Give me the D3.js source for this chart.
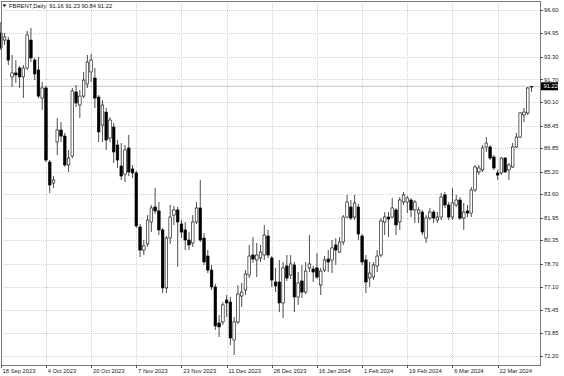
<!DOCTYPE html>
<html><head><meta charset="utf-8">
<script src="https://cdn.jsdelivr.net/npm/d3@7"></script>
<style>
html,body{margin:0;padding:0;background:#fff;}
svg{display:block;font-family:"Liberation Sans",Arial,sans-serif;}
</style></head>
<body><svg id="c" width="564" height="376"></svg>
<script>
const symbol = "FBRENT,Daily";
const lastOHLC = [91.16, 91.23, 90.84, 91.22];
const dateLabels = ["18 Sep 2023","4 Oct 2023","20 Oct 2023","7 Nov 2023","23 Nov 2023","11 Dec 2023","28 Dec 2023","16 Jan 2024","1 Feb 2024","19 Feb 2024","6 Mar 2024","22 Mar 2024"];
const dateTickBars = [0,12,24,36,48,60,72,84,96,108,120,132];
const priceTicks = [96.60,94.95,93.30,91.70,90.10,88.45,86.85,85.20,83.60,81.95,80.35,78.70,77.10,75.45,73.85,72.20];

const open = [94.98,94.48,94.48,91.88,92.16,92.51,91.88,92.51,94.48,93.07,92.37,90.39,91.10,85.88,84.40,87.29,88.14,87.71,85.67,86.30,
90.82,89.90,90.53,91.38,92.23,91.80,90.46,88.49,89.40,87.57,88.35,87.08,85.60,85.03,86.87,85.39,85.11,81.30,79.67,80.10,
81.65,82.71,82.43,81.09,77.00,80.52,82.14,82.50,81.51,81.09,80.38,80.17,81.65,82.64,80.52,79.25,78.26,77.07,74.53,74.60,
76.15,76.01,73.33,74.60,76.43,76.85,77.91,79.32,78.97,79.11,79.32,80.66,79.11,77.42,77.42,75.94,78.55,77.91,78.62,76.36,
77.49,76.71,78.41,78.34,78.41,77.21,78.26,79.04,78.97,80.03,79.53,80.24,82.00,82.71,82.00,82.71,80.66,78.97,77.70,77.77,
78.55,79.32,81.65,82.00,82.00,82.50,81.65,83.06,83.06,83.20,82.50,82.28,82.35,80.52,81.93,82.35,81.79,82.00,83.56,82.85,
82.00,82.85,83.20,81.93,82.43,82.28,83.91,85.18,85.32,86.94,86.94,86.23,85.11,85.11,86.16,85.32,85.53,86.94,87.64,89.20,
89.34,91.16];
const high = [95.75,94.98,94.70,93.43,93.07,92.65,92.72,95.12,95.33,93.22,93.29,91.52,91.24,86.02,84.89,88.98,88.70,87.93,86.73,91.10,
91.31,90.96,92.23,93.43,93.50,92.51,90.61,90.25,89.69,89.05,88.63,87.43,87.22,87.08,87.79,85.67,85.25,81.51,80.38,82.14,
82.85,84.05,83.06,81.23,80.66,82.85,82.78,82.71,81.79,81.65,80.94,82.14,83.06,84.61,80.87,79.67,78.62,77.28,75.09,76.01,
76.50,76.36,74.95,77.21,77.35,78.26,80.03,80.59,80.17,80.03,81.44,81.09,79.25,78.41,78.97,78.83,79.32,79.32,78.83,78.12,
78.62,78.83,80.73,78.55,79.46,78.41,79.25,79.67,80.38,80.52,80.59,82.14,83.56,83.20,83.56,82.92,80.80,79.32,78.83,78.83,
79.67,81.93,82.35,82.35,83.34,82.64,83.41,83.76,83.48,83.34,83.20,82.71,82.50,82.14,82.64,82.50,82.35,83.70,83.76,83.06,
84.05,83.56,83.41,82.99,82.85,84.12,85.67,85.67,87.08,87.64,87.08,86.37,85.32,86.23,86.23,85.81,87.22,87.93,89.40,89.69,
91.17,91.23];
const low = [93.78,94.13,92.72,91.17,91.45,91.10,90.39,92.37,92.93,91.66,90.39,89.55,85.88,83.70,84.05,86.37,87.29,85.53,85.18,86.16,
89.76,88.98,90.39,91.10,91.52,89.69,87.29,87.29,86.73,87.29,85.81,85.46,84.61,84.47,84.89,84.75,81.23,79.18,79.32,79.89,
80.94,82.21,80.73,76.64,76.64,80.10,81.44,78.48,80.52,79.67,79.67,79.89,81.51,80.24,78.62,78.05,76.85,74.03,73.54,74.39,
74.95,72.97,72.27,74.46,75.66,76.50,77.70,78.76,77.77,78.83,78.97,79.11,77.07,76.71,75.30,74.88,77.49,77.63,75.30,75.80,
76.29,76.57,78.12,77.42,77.63,76.50,78.12,78.12,78.05,78.62,79.46,80.03,81.93,81.79,81.79,80.38,78.62,76.64,77.07,77.56,
78.12,79.18,80.73,80.59,81.93,80.73,81.09,82.85,82.28,82.00,81.58,81.58,80.73,80.17,81.79,81.58,81.58,81.79,82.64,81.79,
81.79,82.71,81.79,81.09,82.00,82.00,83.76,84.96,85.18,86.59,86.02,85.32,84.61,84.96,85.11,84.61,85.46,86.87,87.57,88.70,
89.20,90.84];
const close = [93.92,94.70,93.07,92.16,92.02,91.88,92.51,94.84,93.22,92.09,90.53,91.10,86.02,84.26,84.61,88.14,87.71,85.67,86.16,90.89,
90.04,90.53,91.66,92.93,93.07,90.39,88.00,89.90,87.43,88.84,86.59,86.02,84.89,86.73,85.18,85.11,81.37,79.67,79.96,81.79,
82.64,82.43,81.09,77.00,80.52,82.00,82.50,81.65,80.94,80.38,80.03,81.65,82.64,80.38,78.83,78.26,77.07,74.32,74.25,75.80,
75.94,73.47,74.60,76.57,76.71,77.98,79.25,79.04,79.32,79.53,80.73,79.32,77.56,77.14,75.94,78.41,77.70,78.69,76.36,77.35,
76.71,78.19,78.69,78.12,77.77,78.19,78.97,78.83,79.82,79.67,80.24,82.00,83.06,81.93,82.99,80.80,78.83,77.42,78.05,78.62,
79.25,81.72,82.00,81.86,82.64,81.44,83.20,83.56,83.34,82.50,83.06,82.50,80.94,81.93,82.35,81.93,82.00,83.41,82.85,82.00,
82.99,83.20,81.93,82.35,82.28,83.91,85.53,85.46,86.87,87.22,86.16,85.46,84.96,86.16,85.18,85.67,86.94,87.64,89.34,89.40,
91.10,91.22];

const svg = d3.select("#c");
const L = 1, R = 540, T = 1, B = 365;
const x = d3.scaleLinear().domain([0, 141]).range([0.8, 531.5]);
const y = d3.scaleLinear().domain([72.20, 96.60]).range([356, 10]);
const font = 5.8;

// grid
const grid = svg.append("g").attr("shape-rendering","crispEdges");
grid.selectAll("line.h").data(priceTicks).join("line")
  .attr("x1", L).attr("x2", R)
  .attr("y1", d => Math.round(y(d)) + 0.5).attr("y2", d => Math.round(y(d)) + 0.5)
  .attr("stroke", "#d2d2d2").attr("stroke-dasharray", "1,1");
grid.selectAll("line.v").data(dateTickBars).join("line")
  .attr("x1", d => Math.round(x(d)) + 0.5).attr("x2", d => Math.round(x(d)) + 0.5)
  .attr("y1", T).attr("y2", B)
  .attr("stroke", "#d2d2d2").attr("stroke-dasharray", "1,1");

// current price line
svg.append("line").attr("x1", L).attr("x2", R)
  .attr("y1", y(lastOHLC[3])).attr("y2", y(lastOHLC[3]))
  .attr("stroke", "#c8c8c8").attr("stroke-width", 1);

// candles
const idx = d3.range(open.length);
const bw = 2.6;
const cg = svg.append("g");
cg.selectAll("line.w").data(idx).join("line")
  .attr("x1", i => x(i)).attr("x2", i => x(i))
  .attr("y1", i => y(high[i])).attr("y2", i => y(low[i]))
  .attr("stroke", "#111").attr("stroke-width", 0.75);
cg.selectAll("rect.b").data(idx).join("rect")
  .attr("x", i => x(i) - bw / 2).attr("width", bw)
  .attr("y", i => y(Math.max(open[i], close[i])))
  .attr("height", i => Math.max(0.8, Math.abs(y(open[i]) - y(close[i]))))
  .attr("fill", i => close[i] >= open[i] ? "#fff" : "#000")
  .attr("stroke", "#000").attr("stroke-width", 0.6);

// frame
svg.append("rect").attr("x", L + 0.5).attr("y", T + 0.5)
  .attr("width", R - L).attr("height", B - T)
  .attr("fill", "none").attr("stroke", "#7a7a7a").attr("shape-rendering","crispEdges");

// right axis
const ra = svg.append("g");
ra.selectAll("line").data(priceTicks).join("line")
  .attr("x1", R).attr("x2", R + 3)
  .attr("y1", d => Math.round(y(d)) + 0.5).attr("y2", d => Math.round(y(d)) + 0.5)
  .attr("stroke", "#555").attr("shape-rendering","crispEdges");
ra.selectAll("text").data(priceTicks).join("text")
  .attr("x", R + 4).attr("y", d => y(d)).attr("dy", "0.35em")
  .attr("font-size", font).attr("fill", "#222")
  .text(d => d.toFixed(2));

// current price label
const cy = y(lastOHLC[3]);
svg.append("rect").attr("x", R + 1).attr("y", cy - 4).attr("width", 17).attr("height", 8).attr("fill", "#000");
svg.append("text").attr("x", R + 3.5).attr("y", cy).attr("dy", "0.35em")
  .attr("font-size", font).attr("fill", "#fff").text(lastOHLC[3].toFixed(2));

// bottom axis
const ba = svg.append("g");
ba.selectAll("line").data(dateTickBars).join("line")
  .attr("x1", d => Math.round(x(d)) + 0.5).attr("x2", d => Math.round(x(d)) + 0.5)
  .attr("y1", B).attr("y2", B + 3)
  .attr("stroke", "#555").attr("shape-rendering","crispEdges");
ba.selectAll("text").data(dateTickBars).join("text")
  .attr("x", (d) => x(d) + 1.8).attr("y", B + 8)
  .attr("font-size", font).attr("fill", "#222")
  .text((d, i) => dateLabels[i]);

// header
svg.append("path").attr("d", "M2.5,4.5 L6.5,4.5 L4.5,7 Z").attr("fill", "#000");
svg.append("text").attr("x", 9).attr("y", 8).attr("font-size", font).attr("fill", "#111")
  .style("white-space", "pre")
  .text(symbol + "  " + lastOHLC.map(v => v.toFixed(2)).join(" "));
</script></body></html>
